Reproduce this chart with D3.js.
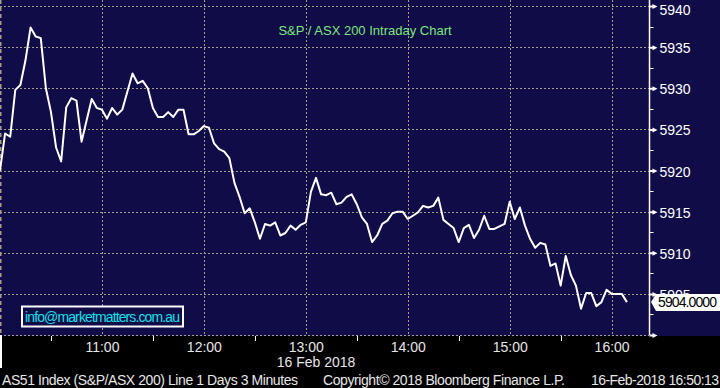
<!DOCTYPE html>
<html>
<head>
<meta charset="utf-8">
<script src="https://cdn.jsdelivr.net/npm/d3@7"></script>
<style>
  body { margin: 0; background: #000; }
  text { font-family: "Liberation Sans", Arial, sans-serif; }
</style>
</head>
<body>
<div id="chart"></div>
<script>
// Chart data (3 minute bars from 10:00)
var startTime = "10:00";
var barMinutes = 3;
var prices = [
    5920.0, 5924.5, 5924.1, 5929.8, 5930.4, 5933.4, 5937.4, 5936.3, 5936.1, 5930.0,
    5927.1, 5922.8, 5921.1, 5927.7, 5928.8, 5928.5, 5923.5, 5926.1, 5928.7, 5927.6,
    5927.4, 5926.3, 5927.6, 5926.8, 5927.4, 5929.6, 5931.8, 5930.6, 5930.9, 5930.0,
    5927.6, 5926.5, 5926.5, 5927.1, 5926.5, 5927.4, 5927.4, 5924.4, 5924.4, 5924.8,
    5925.4, 5925.2, 5923.3, 5922.6, 5922.3, 5921.5, 5918.5, 5916.8, 5914.8, 5915.4,
    5913.7, 5911.7, 5913.5, 5913.3, 5913.7, 5912.1, 5912.4, 5913.3, 5912.8, 5913.4,
    5913.7, 5917.4, 5919.1, 5917.1, 5917.0, 5917.3, 5915.9, 5916.1, 5916.8, 5917.1,
    5915.9, 5914.3, 5913.5, 5911.3, 5912.1, 5913.5, 5913.9, 5914.8, 5915.0, 5915.0,
    5914.1, 5914.5, 5914.9, 5915.7, 5915.5, 5915.7, 5916.7, 5914.0, 5913.5, 5913.0,
    5911.3, 5913.0, 5913.4, 5911.8, 5912.8, 5914.5, 5912.9, 5912.9, 5913.2, 5913.5,
    5916.2, 5914.1, 5915.5, 5913.3, 5911.7, 5910.6, 5911.2, 5911.0, 5908.4, 5908.7,
    5906.0, 5909.6, 5907.3, 5906.0, 5903.2, 5905.1, 5905.1, 5903.5, 5904.0, 5905.5,
    5905.0, 5905.0, 5905.0, 5904.0
];
var hourTicks = ["11:00", "12:00", "13:00", "14:00", "15:00", "16:00"];
var halfHourTicks = ["10:30", "11:30", "12:30", "13:30", "14:30", "15:30"];
var priceTicks = [5900, 5905, 5910, 5915, 5920, 5925, 5930, 5935, 5940];
var minorPriceTicks = [5902.5, 5907.5, 5912.5, 5917.5, 5922.5, 5927.5, 5932.5, 5937.5];
var lastPrice = "5904.0000";
var chartTitle = "S&P / ASX 200 Intraday Chart";
var dateLabel = "16 Feb 2018";
var emailLabel = "info@marketmatters.com.au";
var footerLeft = "AS51 Index (S&P/ASX 200) Line 1 Days 3 Minutes";
var footerMid = "Copyright\u00a9 2018 Bloomberg Finance L.P.";
var footerRight = "16-Feb-2018 16:50:13";

// Setup SVG
var svgWidth = 720;
var svgHeight = 388;
var plotRight = 649;
var plotBottom = 335;
var gridColor = "#a39e88";

var svg = d3.select('#chart')
    .append('svg')
    .attr('width', svgWidth)
    .attr('height', svgHeight);

svg.append('rect')
    .attr('width', svgWidth)
    .attr('height', svgHeight)
    .attr('fill', '#000');
svg.append('rect')
    .attr('width', svgWidth)
    .attr('height', plotBottom + 1)
    .attr('fill', '#100c48');

var parseTime = d3.timeParse("%H:%M");
var t0 = parseTime(startTime);
var series = prices.map(function(p, i) {
    return { time: d3.timeMinute.offset(t0, i * barMinutes), price: p };
});

// Scales
var xScale = d3.scaleTime()
    .domain([t0, parseTime("16:22")])
    .range([0, plotRight]);
var yScale = d3.scaleLinear()
    .domain([5900, 5940])
    .range([plotBottom, 6]);

// Grid lines
var grid = svg.append('g')
    .attr('stroke', gridColor)
    .attr('stroke-dasharray', '2,2')
    .attr('stroke-width', 1);
grid.selectAll('.hgrid')
    .data(priceTicks)
    .enter()
    .append('line')
    .attr('x1', 0)
    .attr('x2', plotRight)
    .attr('y1', d => Math.round(yScale(d)) + 0.5)
    .attr('y2', d => Math.round(yScale(d)) + 0.5);
grid.selectAll('.vgrid')
    .data(hourTicks)
    .enter()
    .append('line')
    .attr('x1', d => Math.round(xScale(parseTime(d))) + 0.5)
    .attr('x2', d => Math.round(xScale(parseTime(d))) + 0.5)
    .attr('y1', 0)
    .attr('y2', plotBottom);
grid.append('line')
    .attr('x1', 0.5)
    .attr('x2', 0.5)
    .attr('y1', 0)
    .attr('y2', plotBottom)
    .attr('stroke-dasharray', '4,3')
    .attr('stroke-width', 2);

// Title
svg.append('text')
    .attr('x', 365)
    .attr('y', 35)
    .attr('text-anchor', 'middle')
    .attr('font-size', 13)
    .attr('fill', '#7ce67c')
    .text(chartTitle);

// Price line
var line = d3.line()
    .x(d => xScale(d.time))
    .y(d => yScale(d.price));
svg.append('path')
    .datum(series)
    .attr('d', line)
    .attr('fill', 'none')
    .attr('stroke', '#fff')
    .attr('stroke-width', 2)
    .attr('stroke-linejoin', 'round');

// Right axis
var rightAxis = d3.axisRight(yScale)
    .tickValues(priceTicks)
    .tickSize(0)
    .tickPadding(10)
    .tickFormat(d => d === 5900 ? "" : d);
var yAxis = svg.append('g')
    .attr('transform', `translate(${plotRight + 0.5}, 0)`)
    .call(rightAxis);
yAxis.select('.domain').remove();
yAxis.selectAll('text')
    .attr('fill', '#fff')
    .attr('font-size', 14)
    .attr('font-family', '"Liberation Sans", Arial, sans-serif')
    .attr('dy', d => d === 5940 ? '0.6em' : '0.4em');
yAxis.selectAll('.tick')
    .append('path')
    .attr('d', 'M0,-1 L4,-1 L8,0 L4,1 L0,1 Z M3,-2.5 L8,0 L3,2.5 Z')
    .attr('fill', '#fff');
yAxis.append('line')
    .attr('x1', 0)
    .attr('x2', 0)
    .attr('y1', 0)
    .attr('y2', plotBottom)
    .attr('stroke', '#fff')
    .attr('stroke-width', 1.5);
yAxis.selectAll('.minor')
    .data(minorPriceTicks)
    .enter()
    .append('line')
    .attr('x1', 0)
    .attr('x2', 4)
    .attr('y1', d => Math.round(yScale(d)) + 0.5)
    .attr('y2', d => Math.round(yScale(d)) + 0.5)
    .attr('stroke', '#fff');

// Last price callout
var lastY = yScale(prices[prices.length - 1]);
svg.append('path')
    .attr('d', `M651,${lastY} L656,${lastY - 8} L720,${lastY - 8} L720,${lastY + 9} L656,${lastY + 9} Z`)
    .attr('fill', '#fff');
svg.append('text')
    .attr('x', 658)
    .attr('y', lastY + 5)
    .attr('font-size', 14)
    .attr('fill', '#000')
    .attr('textLength', 59)
    .text(lastPrice);

// Bottom axis
var bottomAxis = d3.axisBottom(xScale)
    .tickValues(hourTicks.map(parseTime))
    .tickSize(0)
    .tickPadding(6)
    .tickFormat(d3.timeFormat("%H:%M"));
var xAxis = svg.append('g')
    .attr('transform', `translate(0, ${plotBottom + 1})`)
    .call(bottomAxis);
xAxis.select('.domain').remove();
xAxis.selectAll('text')
    .attr('fill', '#e6e6e6')
    .attr('font-size', 14)
    .attr('font-family', '"Liberation Sans", Arial, sans-serif');
xAxis.selectAll('.half')
    .data(halfHourTicks)
    .enter()
    .append('line')
    .attr('x1', d => Math.round(xScale(parseTime(d))) + 0.5)
    .attr('x2', d => Math.round(xScale(parseTime(d))) + 0.5)
    .attr('y1', 0)
    .attr('y2', 5)
    .attr('stroke', '#fff');
svg.append('line')
    .attr('x1', 1)
    .attr('x2', 1)
    .attr('y1', plotBottom)
    .attr('y2', 368)
    .attr('stroke', '#fff')
    .attr('stroke-width', 2);

svg.append('text')
    .attr('x', 316)
    .attr('y', 367)
    .attr('text-anchor', 'middle')
    .attr('font-size', 14)
    .attr('fill', '#e6e6e6')
    .text(dateLabel);

// Email box
svg.append('rect')
    .attr('x', 22)
    .attr('y', 306.5)
    .attr('width', 161)
    .attr('height', 20)
    .attr('fill', '#100c48')
    .attr('stroke', '#fff')
    .attr('stroke-width', 2);
svg.append('text')
    .attr('x', 25)
    .attr('y', 322)
    .attr('font-size', 14)
    .attr('fill', '#14e0e6')
    .attr('textLength', 155)
    .text(emailLabel);

// Footer
var footer = svg.append('g')
    .attr('font-size', 14)
    .attr('fill', '#e6e6e6');
footer.append('text')
    .attr('x', 2)
    .attr('y', 385)
    .attr('textLength', 296)
    .text(footerLeft);
footer.append('text')
    .attr('x', 323)
    .attr('y', 385)
    .attr('textLength', 242)
    .text(footerMid);
footer.append('text')
    .attr('x', 591)
    .attr('y', 385)
    .attr('textLength', 128)
    .text(footerRight);
</script>
</body>
</html>
